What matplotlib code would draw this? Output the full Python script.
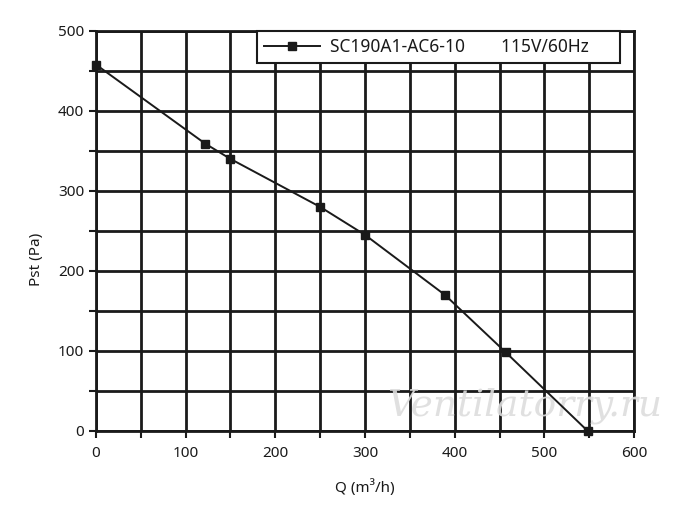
import matplotlib
matplotlib.use("Agg")
import matplotlib.pyplot as plt
import numpy as np

q = [0, 122, 150, 250, 300, 389, 457, 548]
pst = [458, 359, 340, 280, 245, 170, 98, 0]
series_label = "SC190A1-AC6-10        115V/60Hz"
x_ticks = [0, 100, 200, 300, 400, 500, 600]
y_ticks = [0, 100, 200, 300, 400, 500]

plt.rcParams['font.family'] = ['Noto Sans', 'DejaVu Sans']

fig = plt.figure(figsize=(7.0, 5.16), dpi=100)
ax = fig.add_axes([0.137, 0.165, 0.769, 0.775])

ax.set_xlim(0, 600)
ax.set_ylim(0, 500)
ax.set_xticks(x_ticks)
ax.set_yticks(y_ticks)
ax.set_xticks(np.arange(0, 601, 50), minor=True)
ax.set_yticks(np.arange(0, 501, 50), minor=True)
ax.grid(True, which='both', color='#1a1a1a', linewidth=2.0)
ax.set_axisbelow(True)
for s in ax.spines.values():
    s.set_linewidth(2.0)
    s.set_color('#1a1a1a')
ax.tick_params(which='both', direction='out', length=5, width=1.5, color='#1a1a1a',
               labelsize=11, labelcolor='#1a1a1a')
ax.tick_params(axis='x', which='major', pad=6)

ax.plot(q, pst, color='#1a1a1a', linewidth=1.4, marker='s', markersize=5.5,
        markerfacecolor='#1a1a1a', label=series_label, zorder=5, clip_on=False)

ax.set_xlabel('Q (m³/h)', fontsize=11, color='#1a1a1a')
ax.set_ylabel('Pst (Pa)', fontsize=11, color='#1a1a1a')
ax.xaxis.set_label_coords(0.5, -0.12)
ax.yaxis.set_label_coords(-0.097, 0.43)

leg = ax.legend(loc='upper left', bbox_to_anchor=(0.30, 0.9225, 0.674, 0.0775),
                mode='expand', fontsize=12.5,
                fancybox=False, framealpha=1, edgecolor='#1a1a1a',
                borderpad=0.4, handlelength=3.2, handletextpad=0.6, borderaxespad=0,
                markerscale=1.0)
leg.get_frame().set_linewidth(1.5)
leg.set_zorder(10)
for t in leg.get_texts():
    t.set_color('#1a1a1a')

ax.text(0.797, 0.062, 'Ventilatorry.ru', transform=ax.transAxes, ha='center', va='center',
        fontsize=27, style='italic', family='DejaVu Serif',
        color='#dddddd', alpha=0.9, zorder=4)

fig.savefig('out.png', dpi=100, facecolor='white')
